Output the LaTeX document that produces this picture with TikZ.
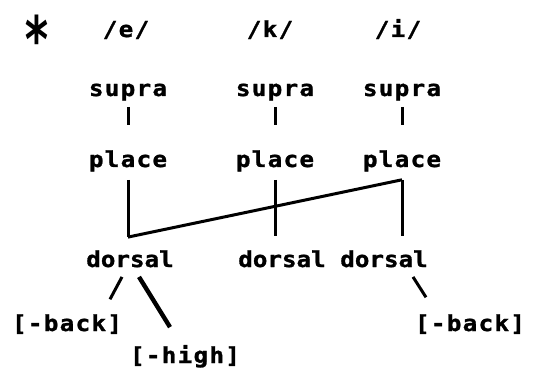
\documentclass[tikz,border=0pt]{standalone}
\usepackage{fontspec}
\usepackage{tikz}
\usetikzlibrary{calc}
\newfontfamily\dm[FakeStretch=1.1,LetterSpace=6,FakeBold=1.2]{DejaVu Sans Mono Bold}
\newfontfamily\dmtight[FakeStretch=1.1,FakeBold=1.2]{DejaVu Sans Mono Bold}
\newfontfamily\dmstar[FakeStretch=0.7]{DejaVu Sans Mono Bold}
\begin{document}
\begin{tikzpicture}[x=1pt,y=-1pt,
  lbl/.style={font=\dm\fontsize{22}{22}\selectfont, inner sep=0pt, anchor=base},
  tight/.style={lbl, font=\dmtight\fontsize{22}{22}\selectfont},
  ln/.style={line width=3pt},
  heavy/.style={line width=4.4pt}]
\useasboundingbox[fill=white] (0,0) rectangle (537,371);
% star
\node[inner sep=0pt, font=\dmstar\fontsize{64}{64}\selectfont] (star) at (37,39) {*};
% segments
\node[lbl] (e) at (126,37) {/e/};
\node[lbl] (k) at (270,37) {/k/};
\node[lbl] (i) at (398,37) {/i/};
% supra
\node[lbl] (s1) at (128,96) {supra};
\node[lbl] (s2) at (275,96) {supra};
\node[lbl] (s3) at (402,96) {supra};
% place
\node[lbl] (p1) at (128,167) {place};
\node[lbl] (p2) at (275,167) {place};
\node[lbl] (p3) at (402,167) {place};
% dorsal
\node[tight] (d1) at (130,267) {dorsal};
\node[tight] (d2) at (282,267) {dorsal};
\node[tight] (d3) at (384,267) {dorsal};
% features
\node[lbl] (b1) at (67,331) {[-back]};
\node[lbl] (h)  at (185,363) {[-high]};
\node[lbl] (b2) at (470,331) {[-back]};
% supra -- place
\foreach \n in {1,2,3}{
  \draw[ln] ($(s\n.south)+(0,6)$) -- ($(s\n.south)+(0,24)$);
}
% place -- dorsal
\coordinate (t1) at ($(p1.south)+(0,8)$);
\coordinate (t2) at ($(p2.south)+(0,8)$);
\coordinate (t3) at ($(p3.south)+(0,8)$);
\coordinate (f1) at ($(p1.south |- d1.north)+(0,-13)$);
\coordinate (f2) at ($(p2.south |- d2.north)+(0,-14)$);
\coordinate (f3) at ($(p3.south |- d3.north)+(0,-14)$);
\draw[ln] (t1) -- (f1);
\draw[ln] (t2) -- (f2);
\draw[ln] (t3) -- (f3);
\draw[ln] (f1) -- (t3);
% dorsal -- features
\draw[ln] ([shift={(-8pt,-9.4pt)}]d1.south) -- ([shift={(43pt,14.8pt)}]b1.north);
\draw[heavy] ([shift={(9pt,-9.4pt)}]d1.south) -- ([shift={(-15pt,17.8pt)}]h.north);
\draw[ln] ([shift={(29pt,-9.4pt)}]d3.south) -- ([shift={(-44pt,16.8pt)}]b2.north);
\end{tikzpicture}
\end{document}
